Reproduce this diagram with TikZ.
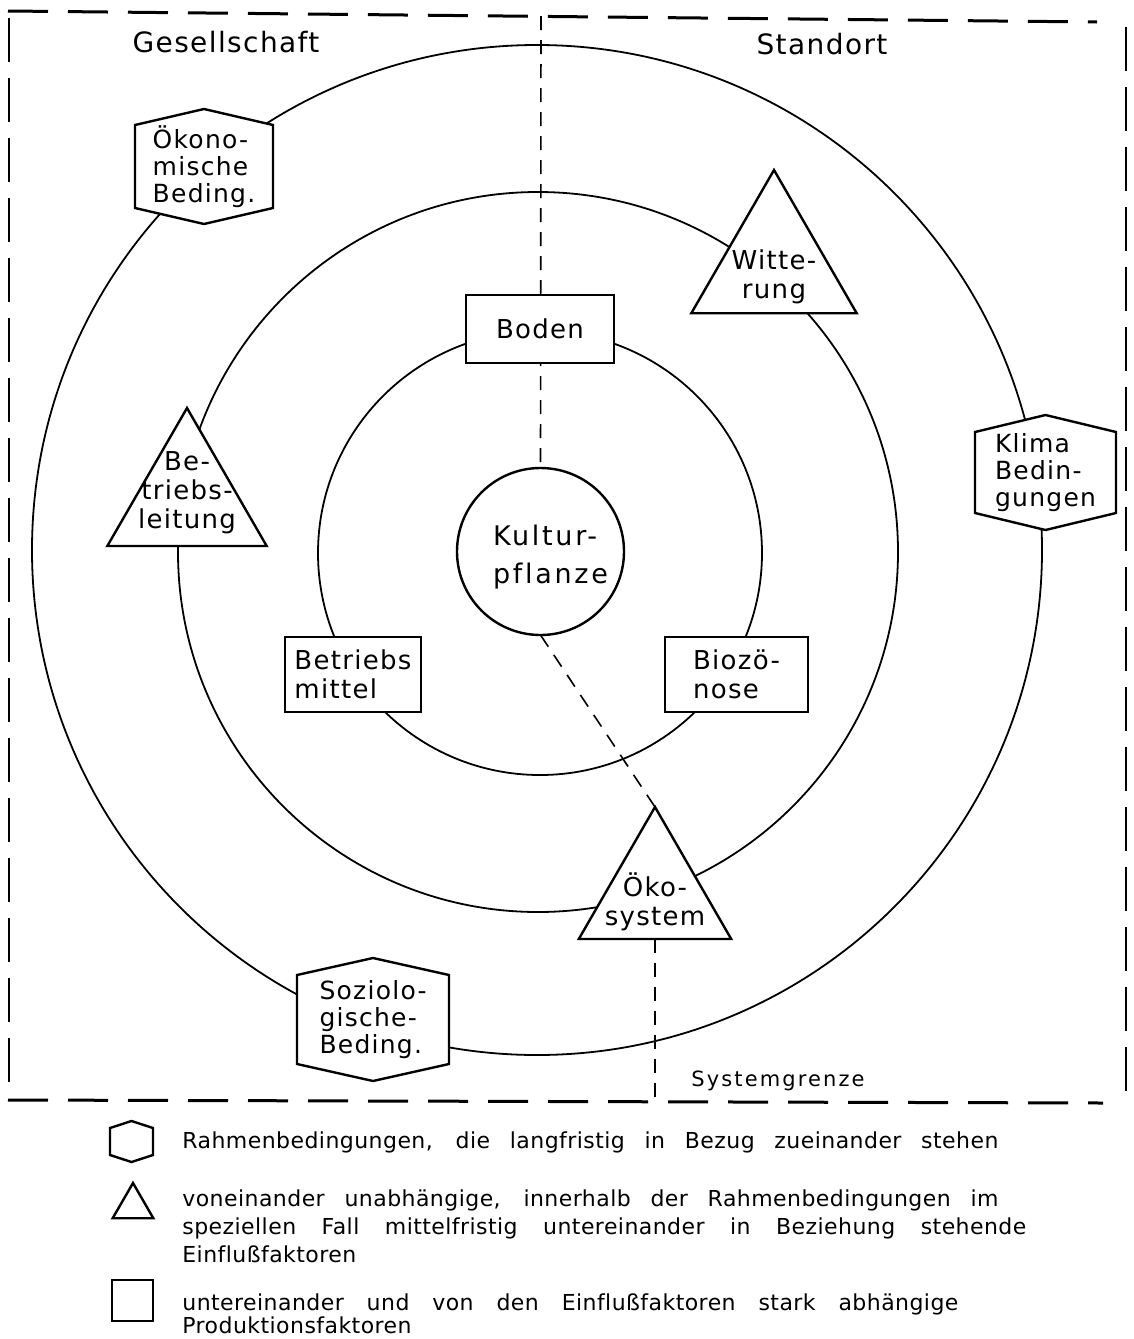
\documentclass[tikz,border=0pt]{standalone}
\usepackage{fontspec}
\setmainfont{DejaVu Sans}[LetterSpace=5,Ligatures=NoCommon]
\newfontfamily\legfont{DejaVu Sans}[LetterSpace=2,Ligatures=NoCommon]
\usetikzlibrary{shapes.geometric}
\pgfdeclarelayer{bg}
\pgfdeclarelayer{mid}
\pgfsetlayers{bg,mid,main}
\newcommand\fA{\fontsize{13}{14.5}\selectfont}
\newcommand\fH{\fontsize{12.5}{13.6}\selectfont}
\newcommand\fK{\fontsize{13.5}{19}\selectfont\addfontfeature{LetterSpace=10}}
\newcommand\fT{\fontsize{14}{16}\selectfont}
\newcommand\fS{\fontsize{10.5}{12}\selectfont\addfontfeature{LetterSpace=10}}
\newcommand\fL{\legfont\fontsize{11}{13}\selectfont}
\newcommand\hexoutline[2]{\begin{pgfonlayer}{mid}\draw[nodeline,fill=white] (#1.north west) -- ([yshift=#2]#1.north) -- (#1.north east) -- (#1.south east) -- ([yshift=-#2]#1.south) -- (#1.south west) -- cycle;\end{pgfonlayer}}
\begin{document}
\begin{tikzpicture}[x=0.5pt,y=-0.5pt,
  nodeline/.style={line width=1.2pt},
  ring/.style={line width=0.9pt},
  thindash/.style={line width=0.8pt,dash pattern=on 7pt off 5pt},
  hborder/.style={line width=1.5pt,dash pattern=on 20pt off 10pt},
  vborder/.style={line width=1.2pt,dash pattern=on 22pt off 8pt},
  boxnode/.style={rectangle,draw,nodeline,fill=white,inner sep=0pt,outer sep=0pt,font=\fA,align=left},
  hexnode/.style={rectangle,inner sep=0pt,outer sep=0pt},
  hextext/.style={font=\fH,align=left,inner sep=0pt},
  trinode/.style={regular polygon,regular polygon sides=3,draw,nodeline,fill=white,inner sep=0pt,outer sep=0pt},
  tritext/.style={font=\fA,align=center,inner sep=0pt},
  legtext/.style={font=\fL,anchor=base west,inner sep=0pt},
  head/.style={font=\fT,anchor=base,inner sep=0pt}
]
\useasboundingbox (0,0) rectangle (1134,1339);

% inner production factors
\node[boxnode,minimum width=74pt,minimum height=34pt] (boden) at (540,329) {Boden};
\node[boxnode,minimum width=68pt,minimum height=37.5pt] (bmittel) at (353,674.5) {Betriebs\\mittel};
\node[boxnode,minimum width=71.5pt,minimum height=37.5pt] (bioz) at (736.5,674.5) {Biozö-\\nose};
\node[circle,draw,nodeline,fill=white,minimum size=83.5pt,inner sep=0pt,outer sep=0pt,
  label={[font=\fK,align=left,inner sep=0pt,xshift=5pt,yshift=-3pt]center:Kultur-\\pflanze}] (kult) at (540.5,551.5) {};

% triangles
\node[trinode,minimum size=95.5pt,label={[tritext,yshift=-5.5pt]center:Witte-\\rung}] (witt) at (774,265.5) {};
\node[trinode,minimum size=92pt,label={[tritext,yshift=3.5pt]center:Be-\\triebs-\\leitung}] (bleit) at (187,500) {};
\node[trinode,minimum size=88pt,label={[tritext,yshift=-3.5pt]center:Öko-\\system}] (oeko) at (655,895) {};

% hexagons
\node[hexnode,minimum width=69pt,minimum height=41.5pt,label={[hextext]center:Ökono-\\mische\\Beding.}] (oekon) at (204,166.5) {};
\hexoutline{oekon}{8pt}
\node[hexnode,minimum width=70.5pt,minimum height=40.5pt,label={[hextext]center:Klima\\Bedin-\\gungen}] (klima) at (1045.5,472.5) {};
\hexoutline{klima}{8.5pt}
\node[hexnode,minimum width=76pt,minimum height=44.5pt,label={[hextext]center:Soziolo-\\gische-\\Beding.}] (soz) at (373,1019.5) {};
\hexoutline{soz}{8.5pt}

% headings
\node[head] (ges) at (226,52) {Gesellschaft};
\node[head] (stand) at (822,54) {Standort};
\node[font=\fS,anchor=base,inner sep=0pt] (sysg) at (778,1086) {Systemgrenze};

% legend
\node[hexnode,minimum width=21.5pt,minimum height=13.5pt] (lhex) at (131.5,1141.5) {};
\hexoutline{lhex}{3.5pt}
\node[trinode,minimum size=23.5pt] (ltri) at (133,1206.5) {};
\node[boxnode,minimum width=20.5pt,minimum height=20.5pt] (lbox) at (132.5,1300.5) {};
\node[legtext] (l1) at (182,1148) {\makebox[408pt][s]{Rahmenbedingungen, die langfristig in Bezug zueinander stehen}};
\node[legtext] (l2) at (182,1206) {\makebox[408pt][s]{voneinander unabhängige, innerhalb der Rahmenbedingungen im}};
\node[legtext] (l3) at (182,1234) {\makebox[422pt][s]{speziellen Fall mittelfristig untereinander in Beziehung stehende}};
\node[legtext] (l4) at (182,1262) {Einflußfaktoren};
\node[legtext] (l5) at (182,1310) {\makebox[388pt][s]{untereinander und von den Einflußfaktoren stark abhängige}};
\node[legtext] (l6) at (182,1333) {Produktionsfaktoren};

\begin{pgfonlayer}{bg}
\fill[white] (0,0) rectangle (1134,1339);
\draw[ring] (540,553) circle[radius=111pt];
\draw[ring] (538,552) circle[radius=180pt];
\draw[ring] (537,550) circle[radius=252.5pt];
\coordinate (topD) at (541,16);
\coordinate (botD) at (655,1101);
\draw[thindash] (topD) -- (kult.north);
\draw[thindash] (kult.south) -- (oeko.corner 1);
\draw[thindash] (oeko.south) -- (botD);
\draw[hborder] (8,11) -- (1097,22);
\draw[hborder] (8,1100) -- (1103,1103);
\draw[vborder] (9,18) -- (9,1092);
\draw[vborder] (1126,27) -- (1126,1092);
\end{pgfonlayer}
\end{tikzpicture}
\end{document}
